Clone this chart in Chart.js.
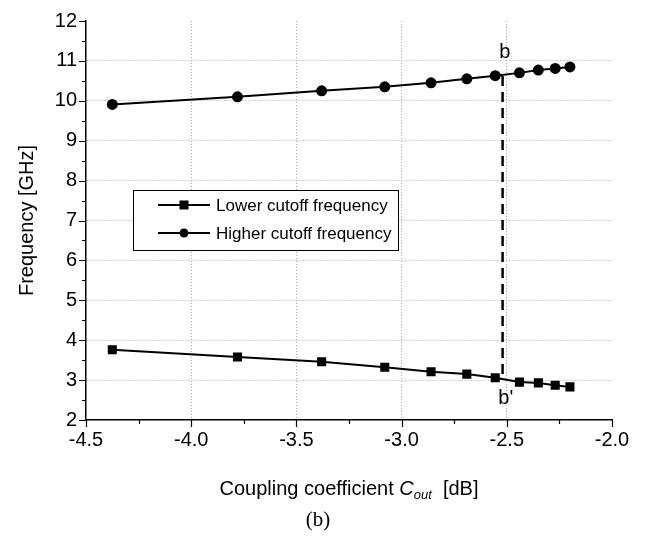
<!DOCTYPE html>
<html>
<head>
<meta charset="utf-8">
<script src="https://cdn.jsdelivr.net/npm/chart.js@4"></script>
<style>
  html, body { margin: 0; padding: 0; background: #fff; }
  #wrap { width: 651px; height: 539px; }
</style>
</head>
<body>
<div id="wrap"><canvas id="chart" width="651" height="539"></canvas></div>
<script>
// values
const couplingDb = [-4.375, -3.78, -3.38, -3.08, -2.86, -2.69, -2.555, -2.44, -2.35, -2.27, -2.20];
const lowerCutoff = [3.76, 3.58, 3.46, 3.32, 3.21, 3.15, 3.06, 2.95, 2.93, 2.87, 2.83];
const higherCutoff = [9.91, 10.10, 10.25, 10.35, 10.45, 10.55, 10.63, 10.70, 10.77, 10.81, 10.85];
const seriesNames = ["Lower cutoff frequency", "Higher cutoff frequency"];

// dashed marker b - b'
const markerX = [-2.52, -2.52];
const markerY = [10.62, 3.05];
const markerText = ["b", "b'"];
const markerTextX = [-2.51, -2.505];
const markerTextY = [11.2, 2.55];

const xTitle = ["Coupling coefficient ", "C", "out", "  [dB]"];
const caption = "(b)";

const FONT = '"Liberation Sans", Arial, sans-serif';

const toPoints = (xs, ys) => xs.map((x, i) => ({ x: x, y: ys[i] }));
const isMajor = (v, step) => Math.abs(v / step - Math.round(v / step)) < 1e-6;

const extras = {
  id: "extras",
  afterDraw(chart) {
    const ctx = chart.ctx;
    const xs = chart.scales.x;
    const ys = chart.scales.y;
    const area = chart.chartArea;
    ctx.save();

    // tick marks, major and minor
    ctx.strokeStyle = "#000";
    ctx.lineWidth = 1.2;
    ctx.beginPath();
    xs.ticks.forEach((t) => {
      const px = Math.round(xs.getPixelForValue(t.value)) + 0.5;
      const len = isMajor(t.value, 0.5) ? 7 : 4;
      ctx.moveTo(px, area.bottom);
      ctx.lineTo(px, area.bottom + len);
    });
    ys.ticks.forEach((t) => {
      const py = Math.round(ys.getPixelForValue(t.value)) + 0.5;
      const len = isMajor(t.value, 1) ? 7 : 4;
      ctx.moveTo(area.left, py);
      ctx.lineTo(area.left - len, py);
    });
    ctx.stroke();

    // b / b' labels
    ctx.fillStyle = "#000";
    ctx.font = "20px " + FONT;
    ctx.textAlign = "center";
    ctx.textBaseline = "middle";
    markerText.forEach((s, i) => {
      ctx.fillText(s, xs.getPixelForValue(markerTextX[i]), ys.getPixelForValue(markerTextY[i]));
    });

    // legend box
    const lx = 133, ly = 190, lw = 265, lh = 60;
    ctx.fillStyle = "#fff";
    ctx.fillRect(lx, ly, lw, lh);
    ctx.strokeStyle = "#000";
    ctx.lineWidth = 1;
    ctx.strokeRect(lx + 0.5, ly + 0.5, lw, lh);
    const rows = [205, 233];
    chart.data.datasets.slice(0, 2).forEach((ds, i) => {
      const y = rows[i];
      ctx.strokeStyle = "#000";
      ctx.lineWidth = 2;
      ctx.beginPath();
      ctx.moveTo(158, y);
      ctx.lineTo(210, y);
      ctx.stroke();
      ctx.fillStyle = "#000";
      if (ds.pointStyle === "rect") {
        ctx.fillRect(179.5, y - 4.5, 9, 9);
      } else {
        ctx.beginPath();
        ctx.arc(184, y, 4.5, 0, Math.PI * 2);
        ctx.fill();
      }
      ctx.font = "17px " + FONT;
      ctx.textAlign = "left";
      ctx.textBaseline = "middle";
      ctx.fillText(ds.label, 216, y + 1);
    });

    // x axis title with subscript
    const cx = (area.left + area.right) / 2;
    const ty = 489;
    const fonts = ["20px " + FONT, "italic 20px " + FONT, "italic 13px " + FONT, "20px " + FONT];
    const dy = [0, 0, 6, 0];
    let widths = xTitle.map((s, i) => { ctx.font = fonts[i]; return ctx.measureText(s).width; });
    let x = cx - widths.reduce((a, b) => a + b, 0) / 2;
    ctx.textAlign = "left";
    ctx.textBaseline = "middle";
    xTitle.forEach((s, i) => {
      ctx.font = fonts[i];
      ctx.fillText(s, x, ty + dy[i]);
      x += widths[i];
    });

    // caption
    ctx.font = '21px "Liberation Serif", "Times New Roman", serif';
    ctx.textAlign = "center";
    ctx.fillText(caption, 318, 520);
    ctx.restore();
  }
};

const gridColor = (step, lo, hi) => (c) => {
  const v = c.tick ? c.tick.value : null;
  if (v === null || !isMajor(v, step) || v <= lo + 1e-6 || v >= hi - 1e-6) return "rgba(0,0,0,0)";
  return "#a8a8a8";
};

new Chart(document.getElementById("chart"), {
  type: "line",
  data: {
    datasets: [
      {
        label: seriesNames[0],
        data: toPoints(couplingDb, lowerCutoff),
        borderColor: "#000",
        backgroundColor: "#000",
        borderWidth: 2,
        pointStyle: "rect",
        pointRadius: 5,
        tension: 0,
      },
      {
        label: seriesNames[1],
        data: toPoints(couplingDb, higherCutoff),
        borderColor: "#000",
        backgroundColor: "#000",
        borderWidth: 2,
        pointStyle: "circle",
        pointRadius: 4.5,
        tension: 0,
      },
      {
        label: "b-b'",
        data: toPoints(markerX, markerY),
        borderColor: "#000",
        borderWidth: 2.5,
        borderDash: [10, 6],
        pointRadius: 0,
      },
    ],
  },
  options: {
    responsive: false,
    animation: false,
    layout: { padding: { left: 15, top: 19, right: 39, bottom: 0 } },
    plugins: { legend: { display: false }, tooltip: { enabled: false } },
    scales: {
      x: {
        type: "linear",
        min: -4.5,
        max: -2.0,
        afterFit: (s) => { s.height = 119; },
        afterBuildTicks: (s) => {
          const t = [];
          for (let i = 0; i <= 10; i++) t.push({ value: -4.5 + i * 0.25 });
          s.ticks = t;
        },
        ticks: {
          color: "#000",
          font: { size: 20, family: FONT },
          padding: 8,
          maxRotation: 0,
          autoSkip: false,
          callback: (v) => (isMajor(v, 0.5) ? Number(v).toFixed(1) : ""),
        },
        grid: { color: gridColor(0.5, -4.5, -2.0), lineWidth: 1, drawTicks: false },
        border: { color: "#000", width: 1.5, dash: [1, 2] },
      },
      y: {
        type: "linear",
        min: 2,
        max: 12,
        afterFit: (s) => { s.width = 71; },
        afterBuildTicks: (s) => {
          const t = [];
          for (let i = 0; i <= 20; i++) t.push({ value: 2 + i * 0.5 });
          s.ticks = t;
        },
        ticks: {
          color: "#000",
          font: { size: 20, family: FONT },
          padding: 9,
          autoSkip: false,
          callback: (v) => (isMajor(v, 1) ? String(v) : ""),
        },
        grid: { color: gridColor(1, 2, 12), lineWidth: 1, drawTicks: false },
        border: { color: "#000", width: 1.5, dash: [1, 2] },
        title: {
          display: true,
          text: "Frequency [GHz]",
          color: "#000",
          font: { size: 20, family: FONT },
          padding: { top: 0, bottom: 0 },
        },
      },
    },
  },
  plugins: [extras],
});
</script>
</body>
</html>
